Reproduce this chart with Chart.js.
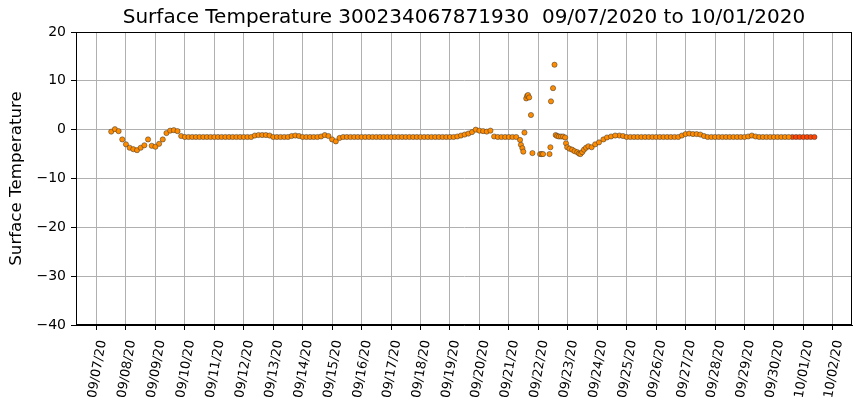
<!DOCTYPE html>
<html><head><meta charset="utf-8">
<script src="https://cdn.jsdelivr.net/npm/chart.js@4"></script>
<style>html,body{margin:0;padding:0;background:#fff}#wrap{width:860px;height:408px}</style>
</head><body><div id="wrap"><canvas id="c" width="860" height="408"></canvas></div>
<script>
const titleText = 'Surface Temperature 300234067871930  09/07/2020 to 10/01/2020';
const yAxisLabel = 'Surface Temperature';
const tickLabels = ['09/07/20','09/08/20','09/09/20','09/10/20','09/11/20','09/12/20','09/13/20','09/14/20','09/15/20','09/16/20','09/17/20','09/18/20','09/19/20','09/20/20','09/21/20','09/22/20','09/23/20','09/24/20','09/25/20','09/26/20','09/27/20','09/28/20','09/29/20','09/30/20','10/01/20','10/02/20'];
const yTicks = [-40,-30,-20,-10,0,10,20];
// regular readings: first at 09/07/20 12:00, every 3 hours (days since 09/07/20 00:00)
const startDay = 0.5;
const stepDays = 0.125;
const temps = [
 -0.4, 0.1, -0.3, -2.0, -3.0, -3.7, -4.0, -4.2, -3.7, -3.2, -2.0, -3.3, -3.5, -2.9, -2.0, -0.7, -0.2, -0.1, -0.3, -1.3, -1.5,
 -1.5, -1.5, -1.5, -1.5, -1.5, -1.5, -1.5, -1.5, -1.5, -1.5, -1.5, -1.5, -1.5, -1.5, -1.5, -1.5, -1.5, -1.5,
 -1.2, -1.1, -1.1, -1.1, -1.2,
 -1.5, -1.5, -1.5, -1.5, -1.5,
 -1.3, -1.2, -1.3,
 -1.5, -1.5, -1.5, -1.5, -1.5,
 -1.4, -1.1, -1.3, -2.0, -2.4, -1.7, -1.5,
 -1.5, -1.5, -1.5, -1.5, -1.5, -1.5, -1.5, -1.5, -1.5, -1.5, -1.5, -1.5, -1.5, -1.5, -1.5,
 -1.5, -1.5, -1.5, -1.5, -1.5, -1.5, -1.5, -1.5, -1.5, -1.5, -1.5, -1.5, -1.5, -1.5, -1.5,
 -1.4, -1.2, -1.0, -0.8, -0.5, 0.0, -0.2, -0.3, -0.4, -0.2, -1.4,
 -1.5, -1.5, -1.5, -1.5, -1.5, -1.5,
 null, null, null, null, null, null, null, null, null, null, null, null, null, null, null, null, null, null, null, null, null, null, null, null, null, null, null,
 -1.2, -1.3, -1.5, -1.5, -1.5, -1.5, -1.5, -1.5, -1.5, -1.5, -1.5, -1.5, -1.5, -1.5, -1.5, -1.5, -1.5,
 -1.2, -0.9, -0.8, -0.9, -0.9, -1.0, -1.3, -1.5,
 -1.5, -1.5, -1.5, -1.5, -1.5, -1.5, -1.5, -1.5, -1.5, -1.5,
 -1.4, -1.2, -1.4,
 -1.5, -1.5, -1.5, -1.5, -1.5, -1.5, -1.5, -1.5, -1.5
];
// most recent readings (drawn in red), continuing the 3-hourly sequence
const latestTemps = [-1.5, -1.5, -1.5, -1.5, -1.5, -1.5, -1.5];
// irregular readings 09/21 - 09/24
const spikeDays = [14.38, 14.41, 14.46, 14.49, 14.53, 14.59, 14.62, 14.65, 14.69, 14.75, 14.80, 15.06, 15.11, 15.16, 15.38, 15.41, 15.43, 15.50, 15.55, 15.59, 15.64, 15.70, 15.77, 15.84, 15.91, 15.94, 15.98, 16.06, 16.15, 16.23, 16.32, 16.38, 16.43, 16.49, 16.55, 16.62, 16.70, 16.81, 16.93, 17.06, 17.21, 17.33, 17.47, 17.61];
const spikeTemps = [-2.1, -3.1, -3.8, -4.5, -0.6, 6.4, 6.9, 7.1, 6.6, 3.0, -4.8, -5.0, -5.0, -5.0, -5.0, -3.6, 5.8, 8.5, 13.3, -1.1, -1.3, -1.4, -1.4, -1.4, -1.6, -2.8, -3.6, -3.9, -4.1, -4.4, -4.6, -4.9, -5.0, -4.6, -4.1, -3.7, -3.4, -3.6, -3.0, -2.6, -2.0, -1.6, -1.4, -1.2];

const orangePts = [];
temps.forEach((t, i) => { if (t !== null) orangePts.push({x: startDay + stepDays * i, y: t}); });
spikeDays.forEach((d, i) => orangePts.push({x: d, y: spikeTemps[i]}));
const redPts = latestTemps.map((t, i) => ({x: startDay + stepDays * (temps.length + i), y: t}));

const framePlugin = {
  id: 'frame',
  afterDraw(chart) {
    const {ctx, chartArea: a} = chart;
    ctx.save();
    ctx.strokeStyle = '#000';
    ctx.lineWidth = 1;
    ctx.strokeRect(Math.round(a.left) + 0.5, Math.round(a.top) + 0.5, Math.round(a.right - a.left) - 1, Math.round(a.bottom - a.top) - 1);
    ctx.restore();
  }
};

new Chart(document.getElementById('c'), {
  type: 'scatter',
  data: {datasets: [
    {data: orangePts, backgroundColor: '#ff8c00', borderColor: '#333', borderWidth: 0.5, pointRadius: 2.6},
    {data: redPts, backgroundColor: '#ff4500', borderColor: '#333', borderWidth: 0.5, pointRadius: 2.6}
  ]},
  options: {
    responsive: false, animation: false, devicePixelRatio: 1,
    layout: {padding: {left: 0, right: 8, top: 0, bottom: 0}},
    plugins: {
      legend: {display: false}, tooltip: {enabled: false},
      title: {display: true, text: titleText, fullSize: false, color: '#000',
        font: {family: 'DejaVu Sans', size: 20, weight: 'normal'}, padding: {top: 6, bottom: 2}}
    },
    scales: {
      x: {type: 'linear', min: -0.696, max: 25.65,
        afterBuildTicks: s => { s.ticks = tickLabels.map((_, i) => ({value: i})); },
        afterFit: s => { s.height = 83; },
        ticks: {callback: v => tickLabels[Math.round(v)], autoSkip: false, minRotation: 80, maxRotation: 80,
          font: {family: 'DejaVu Sans', size: 13}, color: '#000', padding: 9, labelOffset: 6},
        grid: {color: '#b0b0b0', lineWidth: 1, tickLength: 5, tickColor: '#000'},
        border: {color: '#000', width: 1}
      },
      y: {min: -40, max: 20,
        afterBuildTicks: s => { s.ticks = yTicks.map(v => ({value: v})); },
        afterFit: s => { s.width = 76; },
        ticks: {callback: v => String(v).replace('-', '\u2212'), font: {family: 'DejaVu Sans', size: 14}, color: '#000', padding: 5},
        grid: {color: '#b0b0b0', lineWidth: 1, tickLength: 5, tickColor: '#000'},
        border: {color: '#000', width: 1},
        title: {display: true, text: yAxisLabel, color: '#000', font: {family: 'DejaVu Sans', size: 16.7}, padding: {top: 7, bottom: 0}}
      }
    }
  },
  plugins: [framePlugin]
});
</script></body></html>
